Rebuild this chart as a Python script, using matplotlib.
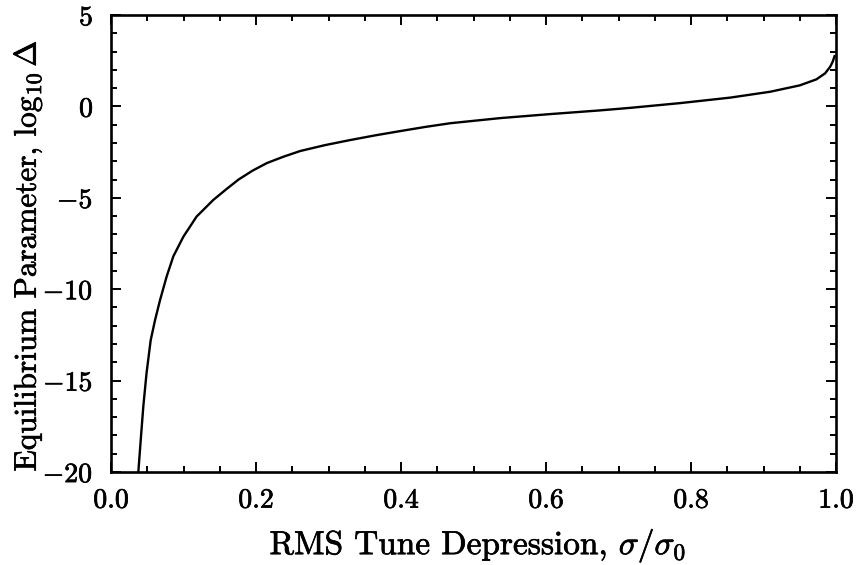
import matplotlib
matplotlib.use("Agg")
import matplotlib.pyplot as plt
from matplotlib.ticker import MultipleLocator, FixedLocator
import matplotlib.patheffects as pe

# Data
tune_depression = [0.0377, 0.041, 0.0446, 0.049, 0.0547, 0.0607, 0.0676, 0.0768,
                   0.086, 0.0998, 0.118, 0.141, 0.160, 0.176, 0.195, 0.215,
                   0.238, 0.261, 0.295, 0.330, 0.365, 0.399, 0.434, 0.468,
                   0.537, 0.606, 0.674, 0.716, 0.785, 0.854, 0.909, 0.950,
                   0.973, 0.985, 0.992, 0.9955, 0.998]
log_delta = [-20.0, -18.25, -16.4, -14.6, -12.8, -11.7, -10.6, -9.3,
             -8.2, -7.13, -6.03, -5.12, -4.5, -4.0, -3.52, -3.1,
             -2.75, -2.44, -2.12, -1.84, -1.58, -1.35, -1.12, -0.92,
             -0.64, -0.42, -0.22, -0.08, 0.18, 0.48, 0.80, 1.15,
             1.48, 1.81, 2.17, 2.45, 2.75]

x_ticks = [0.0, 0.2, 0.4, 0.6, 0.8, 1.0]
x_ticklabels = ["0.0", "0.2", "0.4", "0.6", "0.8", "1.0"]
y_ticks = [-20, -15, -10, -5, 0, 5]
y_ticklabels = [r"$-20$", r"$-15$", r"$-10$", r"$-5$", "0", "5"]

plt.rcParams['font.family'] = 'serif'
plt.rcParams['font.serif'] = ['cmr10', 'DejaVu Serif']
plt.rcParams['mathtext.fontset'] = 'cm'
plt.rcParams['axes.formatter.use_mathtext'] = True

fig = plt.figure(figsize=(8.63, 5.65), dpi=100)
ax = fig.add_axes([111/863, 1 - 472/565, 725/863, 457/565])

ax.plot(tune_depression, log_delta, color='black', lw=1.7)

ax.set_xlim(0.0, 1.0)
ax.set_ylim(-20, 5)
ax.xaxis.set_major_locator(FixedLocator(x_ticks))
ax.set_xticklabels(x_ticklabels)
ax.yaxis.set_major_locator(FixedLocator(y_ticks))
ax.set_yticklabels(y_ticklabels)
ax.xaxis.set_minor_locator(MultipleLocator(0.05))
ax.yaxis.set_minor_locator(MultipleLocator(1))

ax.tick_params(which='both', direction='in', top=True, right=True,
               width=1.4, labelsize=20, color='black')
ax.tick_params(axis='x', which='major', length=7, pad=11)
ax.tick_params(axis='y', which='major', length=7, pad=13)
ax.tick_params(which='minor', length=4)
for s in ax.spines.values():
    s.set_linewidth(1.9)

ax.set_xlabel(r"RMS Tune Depression, $\sigma/\sigma_0$", fontsize=24)
ax.set_ylabel(r"Equilibrium Parameter, $\log_{10}\Delta$", fontsize=22.5)
ax.xaxis.set_label_coords(0.506, -0.16)
ax.xaxis.label.set_va('center')
ax.yaxis.set_label_coords(-0.114, 0.473)
ax.yaxis.label.set_va('center')

thick = [pe.withStroke(linewidth=0.5, foreground='black')]
for t in ax.get_xticklabels() + ax.get_yticklabels() + [ax.xaxis.label, ax.yaxis.label]:
    t.set_path_effects(thick)

fig.savefig("out.png", dpi=100)
